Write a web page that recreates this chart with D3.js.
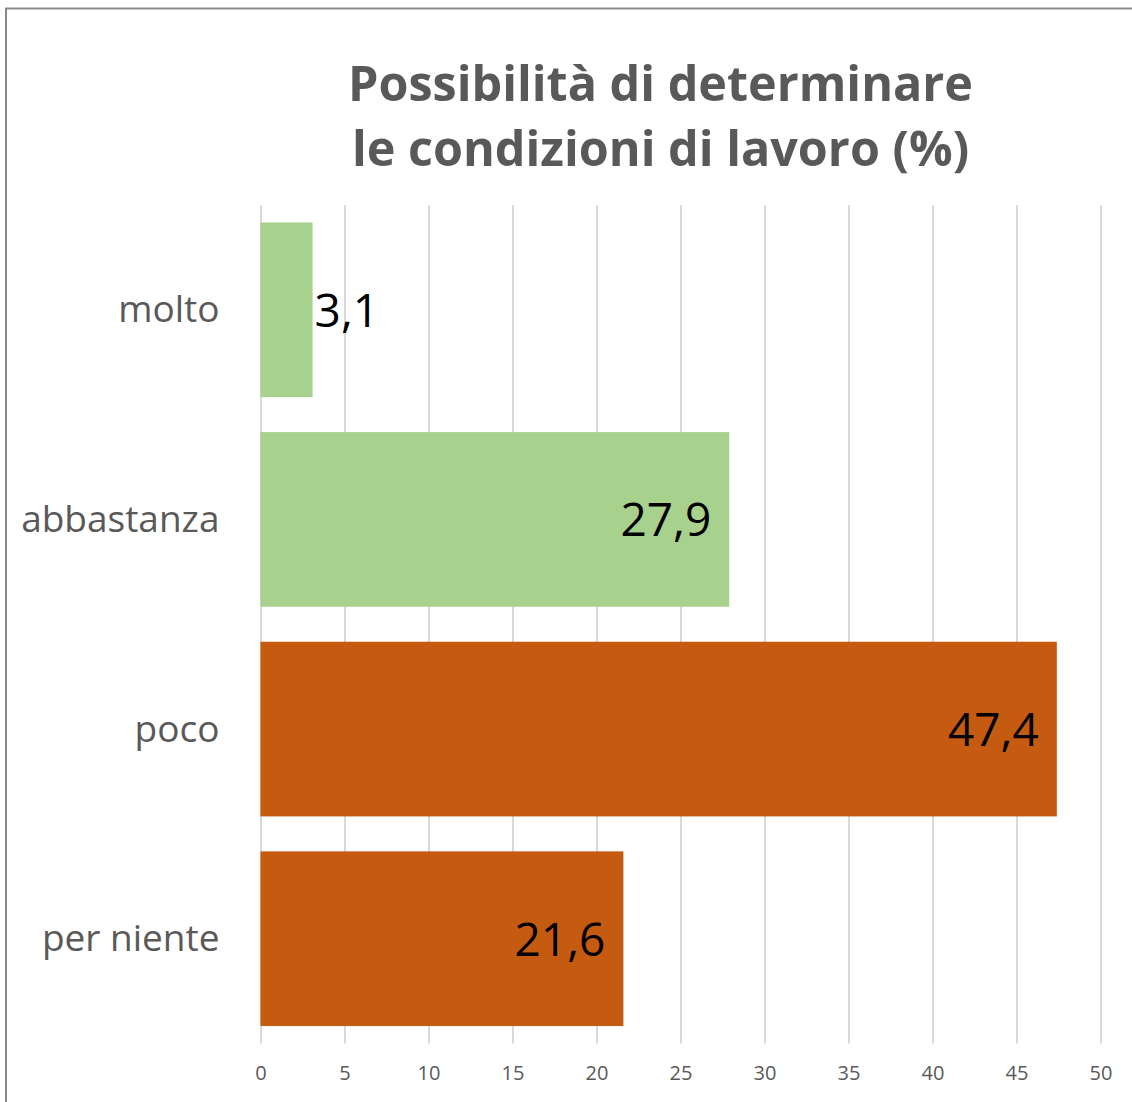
<!DOCTYPE html>
<html>
<head>
<meta charset="utf-8">
<script src="https://cdn.jsdelivr.net/npm/d3@7"></script>
<style>
  html, body { margin: 0; padding: 0; background: #fff; }
  svg { display: block; }
  text { font-family: "Open Sans", "Noto Sans", sans-serif; }
</style>
</head>
<body>
<svg id="chart" width="1132" height="1102"></svg>
<script>
// Risposte alla domanda sulle condizioni di lavoro
const categories = ["molto", "abbastanza", "poco", "per niente"];
const values = [3.1, 27.9, 47.4, 21.6];
const barColors = ["#A9D18E", "#A9D18E", "#C55A11", "#C55A11"];
const xTicks = [0, 5, 10, 15, 20, 25, 30, 35, 40, 45, 50];
const titleLines = ["Possibilità di determinare", "le condizioni di lavoro (%)"];

const svg = d3.select("#chart");
const W = 1132, H = 1102;

// Bordo dell'area del grafico
svg.append("rect")
  .attr("x", 6).attr("y", 8.5)
  .attr("width", W + 20).attr("height", H + 20)
  .attr("fill", "#fff")
  .attr("stroke", "#8a8a8a")
  .attr("stroke-width", 2);

const plot = { left: 260.5, right: 1100.5, top: 205, bottom: 1043.5 };

const x = d3.scaleLinear().domain([0, 50]).range([plot.left, plot.right]);
const y = d3.scaleBand().domain(categories).range([plot.top, plot.bottom])
  .paddingInner(0.1667).paddingOuter(0.0833);

// Titolo
const title = svg.append("text")
  .attr("text-anchor", "middle")
  .attr("fill", "#595959")
  .attr("font-weight", "bold")
  .attr("font-size", 48.5);
title.selectAll("tspan").data(titleLines).join("tspan")
  .attr("x", 660.5)
  .attr("y", (d, i) => 101 + i * 65)
  .text(d => d);

// Griglia verticale ed etichette dell'asse x
const xAxis = d3.axisBottom(x).tickValues(xTicks).tickSize(plot.bottom - plot.top).tickPadding(22)
  .tickFormat(d3.format("d"));
const gx = svg.append("g")
  .attr("transform", `translate(0,${plot.top})`)
  .call(xAxis);
gx.select(".domain").remove();
gx.selectAll(".tick line").attr("stroke", "#D9D9D9").attr("stroke-width", 2);
gx.selectAll(".tick text")
  .attr("fill", "#595959")
  .attr("font-size", 20)
  .attr("font-family", "\"Open Sans\", sans-serif");

// Barre
svg.append("g").selectAll("rect").data(values).join("rect")
  .attr("x", x(0))
  .attr("y", (d, i) => y(categories[i]))
  .attr("width", d => x(d) - x(0))
  .attr("height", y.bandwidth())
  .attr("fill", (d, i) => barColors[i]);

// Etichette delle categorie
svg.append("g").selectAll("text").data(categories).join("text")
  .attr("x", plot.left - 41)
  .attr("y", d => y(d) + y.bandwidth() / 2)
  .attr("dy", "0.34em")
  .attr("text-anchor", "end")
  .attr("fill", "#595959")
  .attr("font-size", 37)
  .text(d => d);

// Etichette dei valori: dentro la fine della barra, fuori se non c'entrano
const fmt = v => d3.format(".1f")(v).replace(".", ",");
const labels = svg.append("g").selectAll("text").data(values).join("text")
  .attr("y", (d, i) => y(categories[i]) + y.bandwidth() / 2)
  .attr("dy", "0.37em")
  .attr("fill", "#000")
  .attr("font-size", 46)
  .text(d => fmt(d));
labels.each(function(d) {
  const w = this.getComputedTextLength();
  const barW = x(d) - x(0);
  const t = d3.select(this);
  if (w + 36 > barW) {
    t.attr("x", x(d) + 2).attr("text-anchor", "start");
  } else {
    t.attr("x", x(d) - 18).attr("text-anchor", "end");
  }
});
</script>
</body>
</html>
